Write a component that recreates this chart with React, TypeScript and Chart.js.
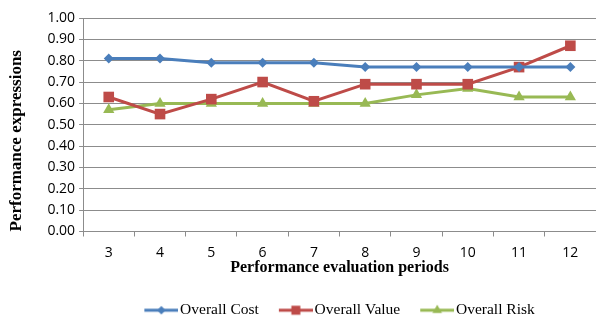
import React, { useEffect, useRef } from "react";
import { Chart, registerables } from "chart.js";

Chart.register(...registerables);

const periods = ["3", "4", "5", "6", "7", "8", "9", "10", "11", "12"];
const overallCost = [0.81, 0.81, 0.79, 0.79, 0.79, 0.77, 0.77, 0.77, 0.77, 0.77];
const overallValue = [0.63, 0.55, 0.62, 0.70, 0.61, 0.69, 0.69, 0.69, 0.77, 0.87];
const overallRisk = [0.57, 0.60, 0.60, 0.60, 0.60, 0.60, 0.64, 0.67, 0.63, 0.63];
const seriesNames = ["Overall Cost", "Overall Value", "Overall Risk"];
const colors = ["#4A7EBB", "#BE4B48", "#98B954"];
const pointStyles = ["rectRot", "rect", "triangle"];
const pointRadii = [5, 7.5, 6.5];

function legendIcon(color: string, style: string, r: number): HTMLCanvasElement {
  const c = document.createElement("canvas");
  c.width = 40;
  c.height = 16;
  const ctx = c.getContext("2d")!;
  ctx.strokeStyle = color;
  ctx.lineWidth = 3;
  ctx.beginPath();
  ctx.moveTo(6, 8);
  ctx.lineTo(40, 8);
  ctx.stroke();
  ctx.fillStyle = color;
  ctx.beginPath();
  const cx = 23, cy = 8;
  if (style === "rectRot") {
    ctx.moveTo(cx - r, cy);
    ctx.lineTo(cx, cy - r);
    ctx.lineTo(cx + r, cy);
    ctx.lineTo(cx, cy + r);
  } else if (style === "rect") {
    const s = r * Math.SQRT1_2;
    ctx.rect(cx - s, cy - s, 2 * s, 2 * s);
  } else {
    ctx.moveTo(cx, cy - r);
    ctx.lineTo(cx + r * 0.866, cy + r * 0.5);
    ctx.lineTo(cx - r * 0.866, cy + r * 0.5);
  }
  ctx.closePath();
  ctx.fill();
  return c;
}

export default function App() {
  const ref = useRef<HTMLCanvasElement>(null);
  useEffect(() => {
    const seriesData = [overallCost, overallValue, overallRisk];
    const icons = colors.map((c, i) => legendIcon(c, pointStyles[i], pointRadii[i] * 0.85));
    const chart = new Chart(ref.current!, {
      type: "line",
      data: {
        labels: periods,
        datasets: seriesNames.map((name, i) => ({
          label: name,
          data: seriesData[i],
          borderColor: colors[i],
          backgroundColor: colors[i],
          borderWidth: 3,
          pointStyle: pointStyles[i] as any,
          pointRadius: pointRadii[i],
          pointBorderWidth: 0,
          pointBackgroundColor: colors[i],
          tension: 0,
          clip: false as any,
        })),
      },
      options: {
        responsive: false,
        animation: false,
        layout: { autoPadding: false, padding: { top: 18, right: -4, left: 6, bottom: -10 } },
        plugins: {
          tooltip: { enabled: false },
          legend: {
            position: "bottom",
            fullSize: false,
            labels: {
              font: { family: "'Liberation Serif'", size: 15.5 },
              color: "#000",
              usePointStyle: true,
              pointStyleWidth: 28,
              boxHeight: 16,
              padding: 20,
              generateLabels: () =>
                seriesNames.map((name, i) => ({
                  text: name,
                  fillStyle: colors[i],
                  strokeStyle: colors[i],
                  lineWidth: 0,
                  pointStyle: icons[i] as any,
                  datasetIndex: i,
                  hidden: false,
                  fontColor: "#000",
                })),
            },
          },
        },
        scales: {
          x: {
            offset: true,
            grid: {
              offset: true,
              drawOnChartArea: false,
              drawTicks: true,
              tickLength: 5,
              color: "#8c8c8c",
            },
            border: { color: "#8c8c8c" },
            ticks: {
              font: { family: "'Open Sans'", size: 14, lineHeight: 1 },
              color: "#000",
              padding: 10,
              maxRotation: 0,
            },
            title: {
              display: true,
              text: "Performance evaluation periods",
              font: { family: "'Liberation Serif'", size: 16, weight: "bold", lineHeight: 1 },
              color: "#000",
              padding: { top: -11, bottom: 7 },
            },
          },
          y: {
            min: 0,
            max: 1,
            ticks: {
              stepSize: 0.1,
              font: { family: "'Open Sans'", size: 14 },
              color: "#000",
              padding: 4,
              callback: (v: any) => Number(v).toFixed(2),
            },
            grid: { color: "#8c8c8c", tickLength: 4 },
            border: { color: "#8c8c8c" },
            title: {
              display: true,
              align: "start",
              text: "Performance expressions",
              font: { family: "'Liberation Serif'", size: 17, weight: "bold" },
              color: "#000",
              padding: { top: 0, bottom: 17 },
            },
          },
        },
      },
    });
    return () => chart.destroy();
  }, []);
  return (
    <div style={{ position: "fixed", left: 0, top: 0, width: 596, height: 318, background: "#fff" }}>
      <canvas ref={ref} width={596} height={318} />
    </div>
  );
}
